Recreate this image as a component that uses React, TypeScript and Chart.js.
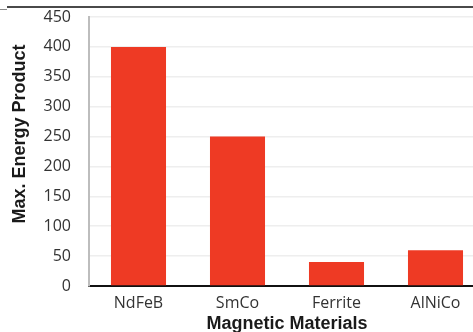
import React, { useEffect, useRef } from "react";
import { Chart, registerables } from "chart.js";

Chart.register(...registerables);

const categories = ["NdFeB", "SmCo", "Ferrite", "AlNiCo"];
const energyProduct = [400, 250, 40, 60];
const yTickMax = 450;
const yTickStep = 50;
const xTitle = "Magnetic Materials";
const yTitle = "Max. Energy Product";

const CW = 495;
const CH = 340;

const yTitlePlugin = {
  id: "yTitlePlugin",
  afterDraw(chart: any) {
    const ctx = chart.ctx;
    ctx.save();
    ctx.translate(20, 134);
    ctx.rotate(-Math.PI / 2);
    ctx.font = "bold 18px 'Liberation Sans', Arial, sans-serif";
    ctx.fillStyle = "#1a1a1a";
    ctx.textAlign = "center";
    ctx.textBaseline = "middle";
    ctx.fillText(yTitle, 0, 0);
    ctx.restore();
  },
};

export default function App() {
  const ref = useRef<HTMLCanvasElement | null>(null);
  useEffect(() => {
    if (!ref.current) return;
    const chart = new Chart(ref.current, {
      type: "bar",
      data: {
        labels: categories,
        datasets: [
          {
            data: energyProduct,
            backgroundColor: "#EE3A24",
            borderWidth: 0,
            categoryPercentage: 1,
            barPercentage: 0.556,
          },
        ],
      },
      options: {
        animation: false,
        responsive: false,
        maintainAspectRatio: false,
        devicePixelRatio: 1,
        layout: { padding: { top: 17, right: 10, left: 0, bottom: 0 } },
        plugins: {
          legend: { display: false },
          tooltip: { enabled: false },
        },
        scales: {
          x: {
            grid: { display: false, drawTicks: false },
            border: { color: "#111111", width: 2 },
            ticks: {
              color: "#333333",
              font: { family: "'Open Sans', sans-serif", size: 16 },
              padding: 8,
              maxRotation: 0,
            },
            title: {
              display: true,
              text: xTitle,
              color: "#1a1a1a",
              font: { family: "'Liberation Sans', Arial, sans-serif", size: 18, weight: "bold" },
              padding: { top: 0, bottom: 5 },
            },
            afterFit(scale: any) {
              scale.height = CH - 286;
              scale.paddingLeft = 0;
              scale.paddingRight = 0;
            },
          },
          y: {
            min: 0,
            max: yTickMax,
            ticks: {
              stepSize: yTickStep,
              color: "#333333",
              font: { family: "'Open Sans', sans-serif", size: 16 },
              padding: 18,
            },
            grid: { color: "#eeeeee", lineWidth: 1.5, drawTicks: false },
            border: { color: "#bdbdbd", width: 2 },
            afterFit(scale: any) {
              scale.width = 89;
              scale.paddingTop = 0;
              scale.paddingBottom = 0;
            },
          },
        },
      },
      plugins: [yTitlePlugin],
    });
    return () => chart.destroy();
  }, []);

  return (
    <div
      style={{
        position: "fixed",
        left: 0,
        top: 0,
        width: 473,
        height: 332,
        overflow: "hidden",
        background: "#ffffff",
      }}
    >
      <canvas
        ref={ref}
        width={CW}
        height={CH}
        style={{ position: "absolute", left: 0, top: 0, width: CW, height: CH }}
      />
      <div style={{ position: "absolute", left: 7, right: 0, top: 6, height: 2, background: "#4a4a4a" }} />
      <div style={{ position: "absolute", left: 0, width: 7, top: 9, height: 1, background: "#8a8a8a" }} />
    </div>
  );
}
